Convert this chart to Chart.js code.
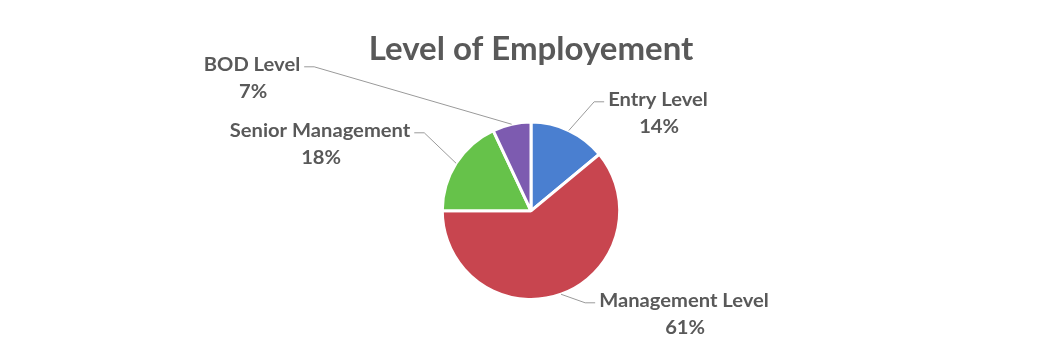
<!DOCTYPE html>
<html>
<head>
<meta charset="utf-8">
<title>Level of Employement</title>
<script src="https://cdn.jsdelivr.net/npm/chart.js@4.4.1/dist/chart.umd.min.js"></script>
<style>
  html, body { margin: 0; padding: 0; background: #fff; }
  #wrap { width: 1048px; height: 351px; position: relative; }
</style>
</head>
<body>
<div id="wrap"><canvas id="pieChart"></canvas></div>
<script>
const categories = ['Entry Level', 'Management Level', 'Senior Management', 'BOD Level'];
const shares = [14, 61, 18, 7];
const sliceColors = ['#4a7fd0', '#c8454f', '#66c24a', '#7d5bb0'];

// where each label sits, relative to the pie centre (dx, dy of the name line)
// and which side the leader line joins it from
const labelSpots = [
	{ dx: 127, dy: -111, side: 'left' },
	{ dx: 153, dy: 90, side: 'left' },
	{ dx: -211, dy: -80, side: 'right' },
	{ dx: -279, dy: -146, side: 'right' }
];

const textGrey = '#595959';
const labelFont = 'bold 18px Lato';
const stretch = 1.12; // labels are drawn a little wide

// labels outside the pie, joined to each slice by a thin leader line
const outsideLabels = {
	id: 'outsideLabels',
	afterDatasetsDraw(chart) {
		const ctx = chart.ctx;
		const meta = chart.getDatasetMeta(0);
		ctx.save();
		ctx.font = labelFont;
		meta.data.forEach((arc, i) => {
			const p = arc.getProps(['x', 'y', 'startAngle', 'endAngle', 'outerRadius'], true);
			const mid = (p.startAngle + p.endAngle) / 2;
			const ex = p.x + Math.cos(mid) * p.outerRadius;
			const ey = p.y + Math.sin(mid) * p.outerRadius;

			const spot = labelSpots[i];
			const tx = p.x + spot.dx;
			const ty = p.y + spot.dy;
			const w = ctx.measureText(categories[i]).width * stretch;
			const dir = spot.side === 'left' ? -1 : 1;
			const jx = tx + dir * (w / 2 + 4);
			const kx = jx + dir * 10;

			ctx.strokeStyle = '#9a9a9a';
			ctx.lineWidth = 1;
			ctx.beginPath();
			ctx.moveTo(ex, ey);
			ctx.lineTo(kx, ty + 2);
			ctx.lineTo(jx, ty + 2);
			ctx.stroke();

			ctx.save();
			ctx.translate(tx, ty);
			ctx.scale(stretch, 1);
			ctx.fillStyle = textGrey;
			ctx.textAlign = 'center';
			ctx.textBaseline = 'middle';
			ctx.fillText(categories[i], 0, 0);
			ctx.fillText(shares[i] + '%', 1, 27);
			ctx.restore();
		});
		ctx.restore();
	}
};

const chartDiv = document.getElementById('pieChart');
const myChart = new Chart(chartDiv, {
	type: 'pie',
	data: {
		labels: categories,
		datasets: [{
			data: shares,
			backgroundColor: sliceColors,
			borderColor: '#ffffff',
			borderWidth: 3
		}]
	},
	options: {
		responsive: true,
		maintainAspectRatio: false,
		animation: false,
		layout: {
			padding: { top: 0, left: 14, right: 0, bottom: 50 }
		},
		plugins: {
			legend: { display: false },
			tooltip: { enabled: false },
			title: {
				display: true,
				text: 'Level of Employement',
				color: textGrey,
				font: { family: 'Lato', size: 33, weight: 'bold', lineHeight: 1.2 },
				padding: { top: 30, bottom: 51 }
			}
		}
	},
	plugins: [outsideLabels]
});
</script>
</body>
</html>
